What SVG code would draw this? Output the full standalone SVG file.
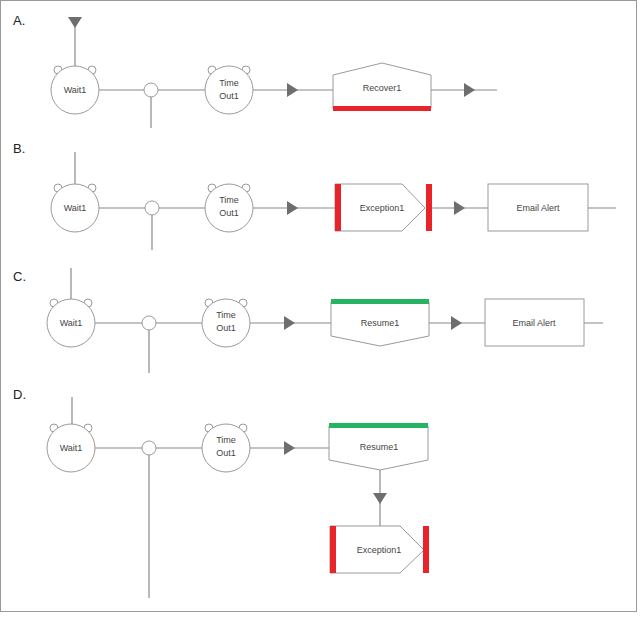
<svg xmlns="http://www.w3.org/2000/svg" width="642" height="617" viewBox="0 0 642 617">
<style>
.ln{stroke:#8a8a8a;stroke-width:1.2;fill:none}
.nd{fill:#fff;stroke:#9a9a9a;stroke-width:1}
.t{font-family:"Liberation Sans",Arial,sans-serif;font-size:9px;fill:#444;text-anchor:middle}
.lab{font-family:"Liberation Sans",Arial,sans-serif;font-size:13px;fill:#222}
.ar{fill:#6e6e6e}
.red{fill:#e8232a}
.grn{fill:#27b462}
</style>
<defs>
<g id="ears"><circle cx="-17" cy="-20" r="4" class="nd"/><circle cx="17" cy="-20" r="4" class="nd"/></g>
<path id="ar" d="M-5,-7 L6,0 L-5,7 Z" class="ar"/>
<path id="ad" d="M-7,-5 L7,-5 L0,6 Z" class="ar"/>
</defs>
<rect x="0.5" y="0.5" width="636" height="611" fill="#fff" stroke="#999"/>
<text class="lab" x="13" y="25">A.</text>
<text class="lab" x="13" y="153">B.</text>
<text class="lab" x="13" y="281">C.</text>
<text class="lab" x="13" y="399">D.</text>
<g id="connectors">
<path class="ln" d="M75,18 V66 M99,90 H144 M151,97 V128 M158,90 H205 M253,90 H333 M431,90 H497"/>
<use href="#ad" x="75" y="22"/><use href="#ar" x="292" y="90"/><use href="#ar" x="469" y="90"/>
<path class="ln" d="M75,152 V184 M99,208 H145 M152,215 V250 M159,208 H205 M253,208 H335 M432,208 H488 M588,208 H616"/>
<use href="#ar" x="292" y="208"/><use href="#ar" x="459" y="208"/>
<path class="ln" d="M71,268 V299 M95,323 H142 M149,330 V373 M156,323 H202 M250,323 H331 M429,323 H485 M584,323 H603"/>
<use href="#ar" x="289" y="323"/><use href="#ar" x="456" y="323"/>
<path class="ln" d="M72,397 V424 M95,448 H142 M149,455 V598 M156,448 H202 M250,448 H329 M380,470 V527"/>
<use href="#ar" x="289" y="448"/><use href="#ad" x="380" y="498"/>
</g>
<g id="A-wait"><use href="#ears" x="75" y="90"/><circle cx="75" cy="90" r="24" class="nd"/><text class="t" x="75" y="93">Wait1</text></g>
<g id="A-junc"><circle cx="151" cy="90" r="7" class="nd"/></g>
<g id="A-timeout"><use href="#ears" x="229" y="90"/><circle cx="229" cy="90" r="24" class="nd"/><text class="t" x="229" y="86">Time</text><text class="t" x="229" y="99">Out1</text></g>
<g id="A-recover"><path d="M333,75 L382,63 L431,75 V108 H333 Z" class="nd"/><rect x="333" y="106" width="98" height="5" class="red"/><text class="t" x="382" y="91">Recover1</text></g>
<g id="B-wait"><use href="#ears" x="75" y="208"/><circle cx="75" cy="208" r="24" class="nd"/><text class="t" x="75" y="211">Wait1</text></g>
<g id="B-junc"><circle cx="152" cy="208" r="7" class="nd"/></g>
<g id="B-timeout"><use href="#ears" x="229" y="208"/><circle cx="229" cy="208" r="24" class="nd"/><text class="t" x="229" y="203">Time</text><text class="t" x="229" y="216">Out1</text></g>
<g id="B-exception"><path d="M335,184 H402 L425,208 L402,231 H335 Z" class="nd"/><rect x="335" y="184" width="6" height="47" class="red"/><rect x="426" y="184" width="6" height="47" class="red"/><text class="t" x="382" y="211">Exception1</text></g>
<g id="B-email"><rect x="488" y="184" width="100" height="47" class="nd"/><text class="t" x="538" y="211">Email Alert</text></g>
<g id="C-wait"><use href="#ears" x="71" y="323"/><circle cx="71" cy="323" r="24" class="nd"/><text class="t" x="71" y="326">Wait1</text></g>
<g id="C-junc"><circle cx="149" cy="323" r="7" class="nd"/></g>
<g id="C-timeout"><use href="#ears" x="226" y="323"/><circle cx="226" cy="323" r="24" class="nd"/><text class="t" x="226" y="318">Time</text><text class="t" x="226" y="331">Out1</text></g>
<g id="C-resume"><path d="M331,302 H429 V336 L380,346 L331,336 Z" class="nd"/><rect x="331" y="299" width="98" height="5" class="grn"/><text class="t" x="380" y="326">Resume1</text></g>
<g id="C-email"><rect x="485" y="299" width="99" height="47" class="nd"/><text class="t" x="534" y="326">Email Alert</text></g>
<g id="D-wait"><use href="#ears" x="71" y="448"/><circle cx="71" cy="448" r="24" class="nd"/><text class="t" x="71" y="451">Wait1</text></g>
<g id="D-junc"><circle cx="149" cy="448" r="7" class="nd"/></g>
<g id="D-timeout"><use href="#ears" x="226" y="448"/><circle cx="226" cy="448" r="24" class="nd"/><text class="t" x="226" y="443">Time</text><text class="t" x="226" y="456">Out1</text></g>
<g id="D-resume"><path d="M329,426 H428 V460 L380,470 L329,460 Z" class="nd"/><rect x="329" y="423" width="99" height="5" class="grn"/><text class="t" x="379" y="450">Resume1</text></g>
<g id="D-exception"><path d="M330,526 H400 L424,550 L400,573 H330 Z" class="nd"/><rect x="330" y="526" width="6" height="47" class="red"/><rect x="423" y="526" width="6" height="47" class="red"/><text class="t" x="379" y="553">Exception1</text></g>
</svg>
